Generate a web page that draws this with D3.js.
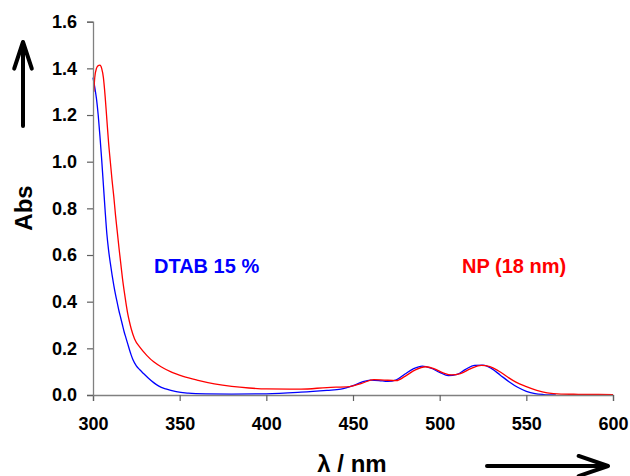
<!DOCTYPE html>
<html>
<head>
<meta charset="utf-8">
<title>Abs spectrum</title>
<script src="https://cdn.jsdelivr.net/npm/d3@7"></script>
<style>
  body { margin: 0; background: #fff; }
  svg text { font-family: "Liberation Sans", Arial, sans-serif; font-weight: bold; }
</style>
</head>
<body>
<script>
// wavelength (nm) / absorbance
var dtabNm  = [300,301,302,303,304,305,306,307,308,309,310,311,312,313,314,315,316,317,318,319,320,321,322,323,325,327,329,332,335,338,342,348,355,365,380,400,420,435,443,450,455,460,465,470,475,480,485,490,495,500,505,510,515,520,525,530,535,540,545,550,555,560,567];
var dtabAbs = [1.36,1.32,1.27,1.20,1.11,1.01,0.90,0.79,0.69,0.62,0.565,0.515,0.47,0.43,0.395,0.36,0.33,0.30,0.27,0.245,0.22,0.195,0.172,0.152,0.125,0.108,0.093,0.072,0.053,0.038,0.026,0.014,0.008,0.005,0.004,0.005,0.012,0.02,0.025,0.04,0.055,0.064,0.062,0.058,0.065,0.09,0.113,0.124,0.115,0.097,0.083,0.088,0.11,0.127,0.128,0.113,0.085,0.057,0.033,0.016,0.006,0.002,0.0];

var npNm  = [300.5,301,302,303,304,305,306,307,308,309,310,311,312,313,314,315,316,317,318,319,320,321,322,324,327,331,335,340,345,352,360,370,380,390,400,420,435,448,455,462,468,475,480,486,492,497,502,507,512,518,524,529,534,539,544,550,556,562,570,580,600];
var npAbs = [1.30,1.36,1.40,1.412,1.414,1.40,1.36,1.28,1.18,1.08,1.00,0.92,0.85,0.77,0.70,0.63,0.565,0.50,0.445,0.395,0.35,0.315,0.285,0.24,0.205,0.17,0.142,0.118,0.099,0.08,0.064,0.048,0.037,0.03,0.026,0.025,0.032,0.036,0.05,0.066,0.064,0.062,0.08,0.108,0.121,0.112,0.095,0.086,0.092,0.113,0.127,0.122,0.103,0.078,0.055,0.036,0.02,0.009,0.004,0.003,0.002];

var xTicks = [300,350,400,450,500,550,600];
var yTicks = [0,0.2,0.4,0.6,0.8,1.0,1.2,1.4,1.6];

var series = [
  { name: "DTAB 15 %", nm: dtabNm, abs: dtabAbs, color: "#0000ff", lx: 154 },
  { name: "NP (18 nm)", nm: npNm, abs: npAbs, color: "#ff0000", lx: 462 }
];

var width = 630, height = 476;
var margins = { left: 93, top: 21.7, right: 17, bottom: 81 };

var svg = d3.select("body").append("svg")
  .attr("width", width).attr("height", height);

var x = d3.scaleLinear().domain([300, 600]).range([margins.left, width - margins.right]);
var y = d3.scaleLinear().domain([0, 1.6]).range([height - margins.bottom, margins.top]);

// curves
var line = d3.line()
  .x(function (d) { return x(d[0]); })
  .y(function (d) { return y(d[1]); })
  .curve(d3.curveMonotoneX);

svg.selectAll("path.line")
  .data(series)
  .enter().append("path")
  .attr("class", "line")
  .attr("fill", "none")
  .attr("stroke", function (d) { return d.color; })
  .attr("stroke-width", 1.3)
  .attr("d", function (d) { return line(d3.zip(d.nm, d.abs)); });

// axes
var xAxis = svg.append("g")
  .attr("transform", "translate(0," + y(0) + ")")
  .call(d3.axisBottom(x).tickValues(xTicks).tickSize(6).tickPadding(16).tickFormat(d3.format("d")));
var yAxis = svg.append("g")
  .attr("transform", "translate(" + x(300) + ",0)")
  .call(d3.axisLeft(y).tickValues(yTicks).tickSize(6).tickPadding(10).tickFormat(d3.format(".1f")));

[xAxis, yAxis].forEach(function (g) {
  g.select(".domain").attr("stroke", "#808080").attr("stroke-width", 1.3);
  g.selectAll(".tick line").attr("stroke", "#606060").attr("stroke-width", 1.2);
  g.selectAll(".tick text").attr("fill", "#000").style("font-size", "18px");
});

// labels
svg.append("text")
  .attr("transform", "translate(32,208) rotate(-90)")
  .attr("text-anchor", "middle")
  .style("font-size", "24px")
  .text("Abs");

svg.append("text")
  .attr("x", 352).attr("y", 472)
  .attr("text-anchor", "middle")
  .style("font-size", "24px")
  .text("λ / nm");

series.forEach(function (s) {
  svg.append("text")
    .attr("x", s.lx).attr("y", 272.5)
    .attr("fill", s.color)
    .style("font-size", "20px")
    .text(s.name);
});

// arrows
function arrow(x1, y1, x2, y2, L, w) {
  var a = Math.atan2(y2 - y1, x2 - x1);
  svg.append("path")
    .attr("fill", "none").attr("stroke", "#000").attr("stroke-width", 4)
    .attr("stroke-linecap", "round").attr("stroke-linejoin", "round")
    .attr("d", "M" + x1 + "," + y1 + "L" + x2 + "," + y2 +
      "M" + (x2 - L * Math.cos(a - w)) + "," + (y2 - L * Math.sin(a - w)) +
      "L" + x2 + "," + y2 +
      "L" + (x2 - L * Math.cos(a + w)) + "," + (y2 - L * Math.sin(a + w)));
}
arrow(23, 126, 23, 42, 28, 0.32);
arrow(487, 466, 608, 466, 31, 0.33);
</script>
</body>
</html>
